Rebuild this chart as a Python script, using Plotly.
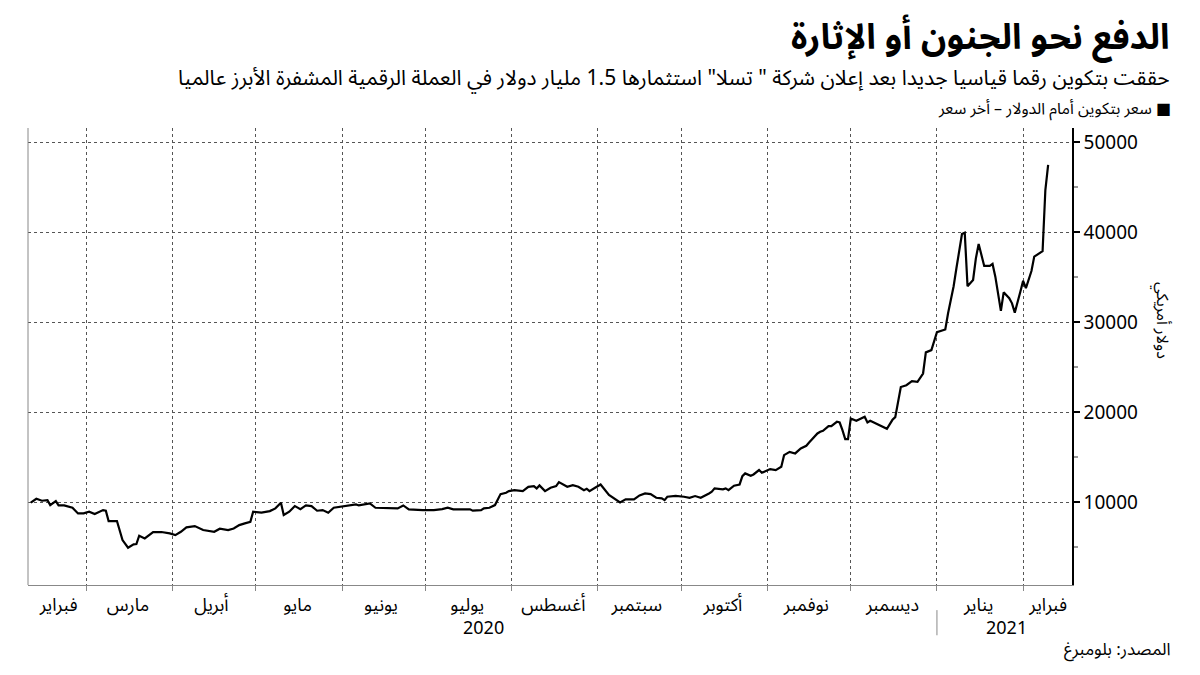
import plotly.graph_objects as go

dates = [
    "2020-02-10", "2020-02-12", "2020-02-14", "2020-02-16", "2020-02-17", "2020-02-19", "2020-02-20",
    "2020-02-22", "2020-02-25", "2020-02-27", "2020-02-29", "2020-03-02", "2020-03-04", "2020-03-07",
    "2020-03-08", "2020-03-09", "2020-03-12", "2020-03-14", "2020-03-16", "2020-03-18", "2020-03-19",
    "2020-03-20", "2020-03-22", "2020-03-25", "2020-03-28", "2020-03-31", "2020-04-02", "2020-04-04",
    "2020-04-06", "2020-04-09", "2020-04-12", "2020-04-14", "2020-04-16", "2020-04-18", "2020-04-21",
    "2020-04-23", "2020-04-25", "2020-04-27", "2020-04-29", "2020-04-30", "2020-05-03", "2020-05-06",
    "2020-05-08", "2020-05-10", "2020-05-11", "2020-05-13", "2020-05-15", "2020-05-17", "2020-05-19",
    "2020-05-21", "2020-05-23", "2020-05-25", "2020-05-27", "2020-05-29", "2020-06-02", "2020-06-04",
    "2020-06-06", "2020-06-07", "2020-06-10", "2020-06-11", "2020-06-13", "2020-06-18", "2020-06-21",
    "2020-06-23", "2020-06-25", "2020-06-30", "2020-07-04", "2020-07-07", "2020-07-09", "2020-07-11",
    "2020-07-17", "2020-07-18", "2020-07-21", "2020-07-22", "2020-07-24", "2020-07-26", "2020-07-28",
    "2020-07-30", "2020-07-31", "2020-08-02", "2020-08-05", "2020-08-07", "2020-08-09", "2020-08-10",
    "2020-08-11", "2020-08-13", "2020-08-15", "2020-08-17", "2020-08-18", "2020-08-21", "2020-08-23",
    "2020-08-25", "2020-08-27", "2020-08-28", "2020-08-29", "2020-08-31", "2020-09-02", "2020-09-05",
    "2020-09-07", "2020-09-09", "2020-09-11", "2020-09-14", "2020-09-16", "2020-09-18", "2020-09-20",
    "2020-09-22", "2020-09-24", "2020-09-25", "2020-09-26", "2020-09-29", "2020-10-02", "2020-10-04",
    "2020-10-06", "2020-10-08", "2020-10-11", "2020-10-12", "2020-10-13", "2020-10-16", "2020-10-17",
    "2020-10-18", "2020-10-20", "2020-10-22", "2020-10-23", "2020-10-24", "2020-10-26", "2020-10-27",
    "2020-10-29", "2020-10-30", "2020-11-02", "2020-11-04", "2020-11-06", "2020-11-07", "2020-11-09",
    "2020-11-11", "2020-11-13", "2020-11-15", "2020-11-16", "2020-11-19", "2020-11-20", "2020-11-21",
    "2020-11-23", "2020-11-24", "2020-11-26", "2020-11-27", "2020-11-28", "2020-11-29", "2020-11-30",
    "2020-12-01", "2020-12-03", "2020-12-06", "2020-12-07", "2020-12-08", "2020-12-14", "2020-12-16",
    "2020-12-17", "2020-12-19", "2020-12-21", "2020-12-23", "2020-12-25", "2020-12-27", "2020-12-28",
    "2020-12-30", "2021-01-01", "2021-01-04", "2021-01-05", "2021-01-07", "2021-01-08", "2021-01-10",
    "2021-01-11", "2021-01-12", "2021-01-14", "2021-01-15", "2021-01-16", "2021-01-18", "2021-01-20",
    "2021-01-21", "2021-01-22", "2021-01-24", "2021-01-25", "2021-01-27", "2021-01-28", "2021-01-29",
    "2021-01-31", "2021-02-01", "2021-02-02", "2021-02-04", "2021-02-05", "2021-02-07", "2021-02-08",
    "2021-02-09", "2021-02-10",
]
prices = [
    9930, 10370, 10150, 10220, 9670, 10110, 9630,
    9630, 9370, 8740, 8740, 8930, 8670, 9110,
    9040, 7890, 7890, 5780, 4930, 5300, 5330,
    6260, 5960, 6670, 6670, 6520, 6330, 6700,
    7190, 7330, 6890, 6810, 6700, 7040, 6890,
    7070, 7440, 7630, 7810, 8930, 8820, 9000,
    9300, 9930, 8560, 8930, 9560, 9220, 9630,
    9560, 9040, 9110, 8820, 9370, 9560, 9630,
    9740, 9630, 9740, 9850, 9370, 9370, 9300,
    9630, 9190, 9110, 9110, 9220, 9370, 9190,
    9190, 9040, 9110, 9300, 9370, 9670, 10890,
    11040, 11220, 11330, 11220, 11700, 11780, 11520,
    11850, 11220, 11590, 11780, 12220, 11700, 11890,
    11700, 11330, 11480, 11220, 11590, 11960, 10800,
    10410, 9960, 10300, 10300, 10740, 10960, 10890,
    10480, 10410, 10220, 10590, 10700, 10590, 10480,
    10670, 10480, 10960, 11150, 11520, 11410, 11520,
    11330, 11820, 11960, 12890, 13190, 12930, 13070,
    13560, 13260, 13670, 13560, 13930, 15220, 15590,
    15410, 15960, 16260, 16630, 17630, 17820, 17930,
    18450, 18450, 18930, 18850, 18000, 17000, 17000,
    19300, 19040, 19500, 18850, 19040, 18150, 19150,
    19450, 22800, 23000, 23450, 23370, 24300, 26650,
    26900, 28900, 29200, 31000, 34000, 36000, 39800,
    39950, 34000, 34700, 37100, 38700, 36260, 36260,
    36480, 35070, 31260, 33330, 32670, 32100, 31070,
    33400, 34600, 33800, 35700, 37300, 37670, 37900,
    44700, 47500,
]

month_label_dates = ["2020-02-20", "2020-03-16", "2020-04-15", "2020-05-16", "2020-06-15",
                     "2020-07-16", "2020-08-16", "2020-09-15", "2020-10-16", "2020-11-15",
                     "2020-12-16", "2021-01-16", "2021-02-10"]
month_labels = ["فبراير", "مارس", "أبريل", "مايو", "يونيو", "يوليو", "أغسطس",
                "سبتمبر", "أكتوبر", "نوفمبر", "ديسمبر", "يناير", "فبراير"]
year_label_dates = ["2020-07-22", "2021-01-26"]
year_labels = ["2020", "2021"]
y_ticks = [10000, 20000, 30000, 40000, 50000]

RLE, PDF = "\u202B", "\u202C"
AR = "Noto Sans Arabic, DejaVu Sans, sans-serif"

fig = go.Figure()
fig.add_trace(go.Scatter(x=dates, y=prices, mode="lines",
                         line=dict(color="black", width=2.2), hoverinfo="skip"))

fig.update_layout(
    width=1200, height=675,
    margin=dict(l=28, r=128, t=128, b=90),
    paper_bgcolor="white", plot_bgcolor="white",
    showlegend=False,
    xaxis=dict(
        type="date",
        range=["2020-02-09", "2021-02-18 14:00"],
        tickmode="array", tickvals=month_label_dates,
        ticktext=[RLE + m + PDF for m in month_labels],
        ticks="", showgrid=False,
        tickfont=dict(family=AR, size=18, color="black"),
        ticklabelstandoff=3,
        showline=True, linecolor="#888888", linewidth=1,
        minor=dict(tick0="2020-03-01", dtick="M1", showgrid=True, griddash="dot",
                   gridcolor="#555555", gridwidth=1, ticks="outside", ticklen=5,
                   tickcolor="#888888"),
        zeroline=False,
    ),
    yaxis=dict(
        side="right", range=[780, 51600],
        tickmode="array", tickvals=y_ticks, ticktext=[str(v) for v in y_ticks],
        ticks="outside", ticklen=6, tickwidth=2, tickcolor="black",
        tickfont=dict(family="Noto Sans", size=19, color="black"),
        showgrid=True, griddash="dot", gridcolor="#555555", gridwidth=1,
        showline=True, linecolor="black", linewidth=1.5,
        minor=dict(dtick=10000, tick0=5000, ticks="outside", ticklen=4,
                   tickcolor="#999999", showgrid=False),
        zeroline=False,
    ),
)

# left frame line
fig.add_shape(type="line", xref="paper", yref="paper", x0=0, x1=0, y0=0, y1=1,
              line=dict(color="#888888", width=1))
# year separator
fig.add_shape(type="line", xref="x", yref="paper", x0="2021-01-01", x1="2021-01-01",
              y0=-0.055, y1=-0.11, line=dict(color="#888888", width=1))

for d, t in zip(year_label_dates, year_labels):
    fig.add_annotation(x=d, xref="x", y=-0.092, yref="paper", text=t, showarrow=False,
                       font=dict(family="Noto Sans", size=18, color="black"),
                       xanchor="center", yanchor="middle")

def px_x(p):
    return (p - 28) / 1044

def px_y(p):
    return (585 - p) / 457

fig.add_annotation(x=px_x(1172), y=px_y(38), xref="paper", yref="paper",
                   text="<b>" + RLE + "الدفع نحو الجنون أو الإثارة" + PDF + "</b>",
                   showarrow=False, xanchor="right", yanchor="middle",
                   font=dict(family=AR, size=35, color="black"))
fig.add_annotation(x=px_x(1172), y=px_y(78), xref="paper", yref="paper",
                   text=RLE + "حققت بتكوين رقما قياسيا جديدا بعد إعلان شركة \" تسلا\" استثمارها 1.5 مليار دولار في العملة الرقمية المشفرة الأبرز عالميا" + PDF,
                   showarrow=False, xanchor="right", yanchor="middle",
                   font=dict(family=AR, size=21, color="black"))
fig.add_annotation(x=px_x(1173), y=px_y(109), xref="paper", yref="paper",
                   text=RLE + "■ سعر بتكوين أمام الدولار – أخر سعر" + PDF,
                   showarrow=False, xanchor="right", yanchor="middle",
                   font=dict(family=AR, size=16, color="black"))
fig.add_annotation(x=px_x(1173), y=px_y(650), xref="paper", yref="paper",
                   text=RLE + "المصدر: بلومبرغ" + PDF,
                   showarrow=False, xanchor="right", yanchor="middle",
                   font=dict(family=AR, size=17, color="black"))
fig.add_annotation(x=px_x(1162), y=px_y(320), xref="paper", yref="paper",
                   text=RLE + "دولار أمريكي" + PDF, textangle=90,
                   showarrow=False, xanchor="center", yanchor="middle",
                   font=dict(family=AR, size=16, color="black"))

fig.write_html("out.html")
